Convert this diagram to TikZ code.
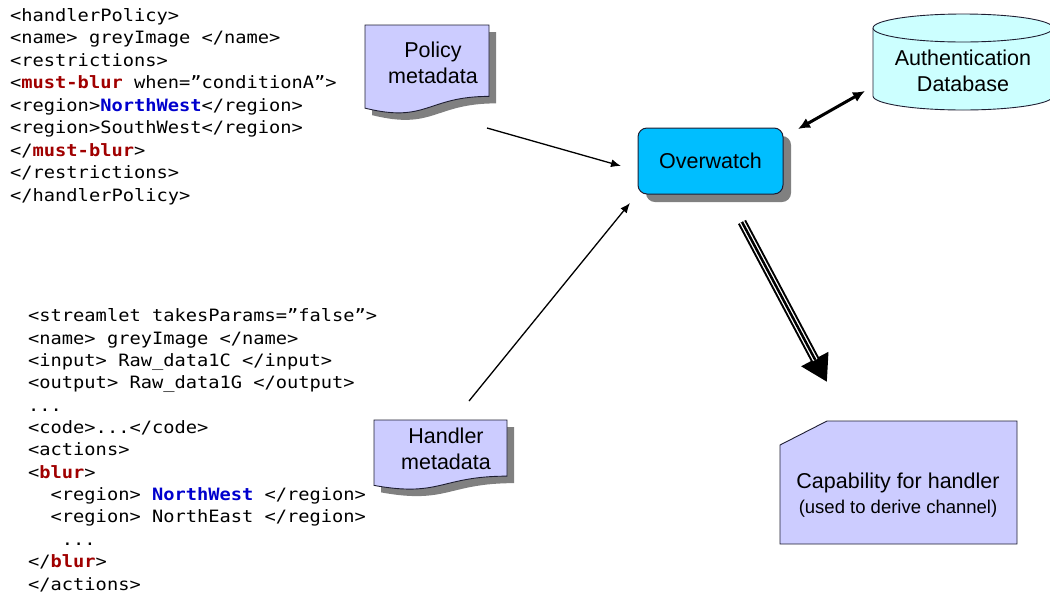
\documentclass[tikz,border=0pt]{standalone}
\usepackage{fontspec}
\setmainfont{Liberation Sans}
\newfontfamily\codefont[FakeStretch=1.1]{DejaVu Sans Mono}
\usetikzlibrary{arrows.meta,shadows}
\definecolor{tagred}{RGB}{160,0,0}
\definecolor{tagblue}{RGB}{0,0,205}
\definecolor{docfill}{RGB}{204,204,255}
\definecolor{owfill}{RGB}{0,190,255}
\definecolor{dbfill}{RGB}{204,255,255}
\definecolor{shadowgray}{RGB}{128,128,128}
\definecolor{edgecol}{RGB}{30,30,50}
\newcommand\kw[1]{\textcolor{tagred}{\bfseries #1}}
\newcommand\nw[1]{\textcolor{tagblue}{\bfseries #1}}
\newcommand\docpath[4]{(#1,#2) -- ({#1+#3},#2) -- ({#1+#3},{#2+0.802*#4}) .. controls ({#1+0.5*#3},{#2+0.802*#4}) and ({#1+0.5*#3},{#2+1.107*#4}) .. (#1,{#2+0.934*#4}) -- cycle}
\tikzset{
  codeblk/.style={font=\codefont\fontsize{17}{22.5}\selectfont, align=left, inner sep=0pt},
  codeblkb/.style={font=\codefont\fontsize{17}{22.35}\selectfont, align=left, inner sep=0pt},
  lbl/.style={font=\fontsize{21.5}{25.5}\selectfont, align=center, inner sep=0pt},
  docshape/.style={draw=edgecol, line width=0.9pt, fill=docfill},
  docshadow/.style={fill=shadowgray},
  thinarrow/.style={line width=1.3pt, -{Latex[length=10pt,width=8pt]}},
}
\begin{document}
\begin{tikzpicture}[x=1pt,y=-1pt]
\useasboundingbox (0,0) rectangle (1050,598);

% code blocks (anchor = baseline of last line)
\node[codeblk, anchor=base west] (policyxml) at (10,201) {%
<handlerPolicy>\\
<name> greyImage </name>\\
<restrictions>\\
<\kw{must-blur} when=”conditionA”>\\
<region>\nw{NorthWest}</region>\\
<region>SouthWest</region>\\
</\kw{must-blur}>\\
</restrictions>\\
</handlerPolicy>};

\node[codeblkb, anchor=base west] (streamletxml) at (28,590) {%
<streamlet takesParams=”false”>\\
<name> greyImage </name>\\
<input> Raw\_data1C </input>\\
<output> Raw\_data1G </output>\\
...\\
<code>...</code>\\
<actions>\\
<\kw{blur}>\\
\phantom{xx}<region> \nw{NorthWest} </region>\\
\phantom{xx}<region> NorthEast </region>\\
\phantom{xxx}...\\
</\kw{blur}>\\
</actions>};

% Policy metadata document
\fill[docshadow, shift={(7,7)}] \docpath{365}{25}{124}{89};
\draw[docshape] \docpath{365}{25}{124}{89};
\node[lbl, anchor=base] (policy) at (433,83) {Policy\\metadata};

% Handler metadata document
\fill[docshadow, shift={(7,7)}] \docpath{374}{420}{133}{70};
\draw[docshape] \docpath{374}{420}{133}{70};
\node[lbl, anchor=base] (handler) at (446,469) {Handler\\metadata};

% Overwatch
\node[lbl, draw=edgecol, line width=1pt, fill=owfill, rounded corners=9pt,
  minimum width=145pt, minimum height=66pt,
  drop shadow={shadow xshift=8pt, shadow yshift=-8pt, fill=shadowgray, opacity=1}]
  (ow) at (710.5,161) {Overwatch};

% Authentication database cylinder
\fill[dbfill] (873,28) -- (873,96) .. controls (873,103.7) and (913.3,110) .. (963,110)
  .. controls (1012.7,110) and (1053,103.7) .. (1053,96) -- (1053,28) -- cycle;
\draw[edgecol, line width=0.9pt] (873,28) -- (873,96) .. controls (873,103.7) and (913.3,110) .. (963,110)
  .. controls (1012.7,110) and (1053,103.7) .. (1053,96) -- (1053,28);
\draw[edgecol, line width=0.9pt, fill=dbfill] (963,28) ellipse [x radius=90, y radius=14];
\node[lbl, anchor=base] (authdb) at (963,91) {Authentication\\Database};

% Capability
\draw[docshape] (780,445) -- (827,421) -- (1017,421) -- (1017,544) -- (780,544) -- cycle;
\node[lbl, anchor=base] (cap) at (898,513) {Capability for handler\\[-1pt]{\fontsize{18.5}{22}\selectfont (used to derive channel)}};

% connectors
\coordinate (p1) at (487,128);
\coordinate (p2) at (621,166);
\coordinate (h1) at (469,401);
\coordinate (h2) at (630,203);
\coordinate (d1) at (798,129);
\coordinate (d2) at (865,91);
\coordinate (t1) at (742,222);
\coordinate (t2) at (827,382);
\draw[thinarrow] (p1) -- (p2);
\draw[thinarrow] (h1) -- (h2);
\draw[line width=3pt, {Latex[length=12pt,width=11pt]}-{Latex[length=12pt,width=11pt]}] (d1) -- (d2);
\draw[line width=9pt, -{Triangle[length=26pt,width=29pt]}] (t1) -- (t2);
\draw[line width=5pt, white, shorten >=25pt] (t1) -- (t2);
\draw[line width=2.5pt, black, shorten >=25pt] (t1) -- (t2);
\end{tikzpicture}
\end{document}
